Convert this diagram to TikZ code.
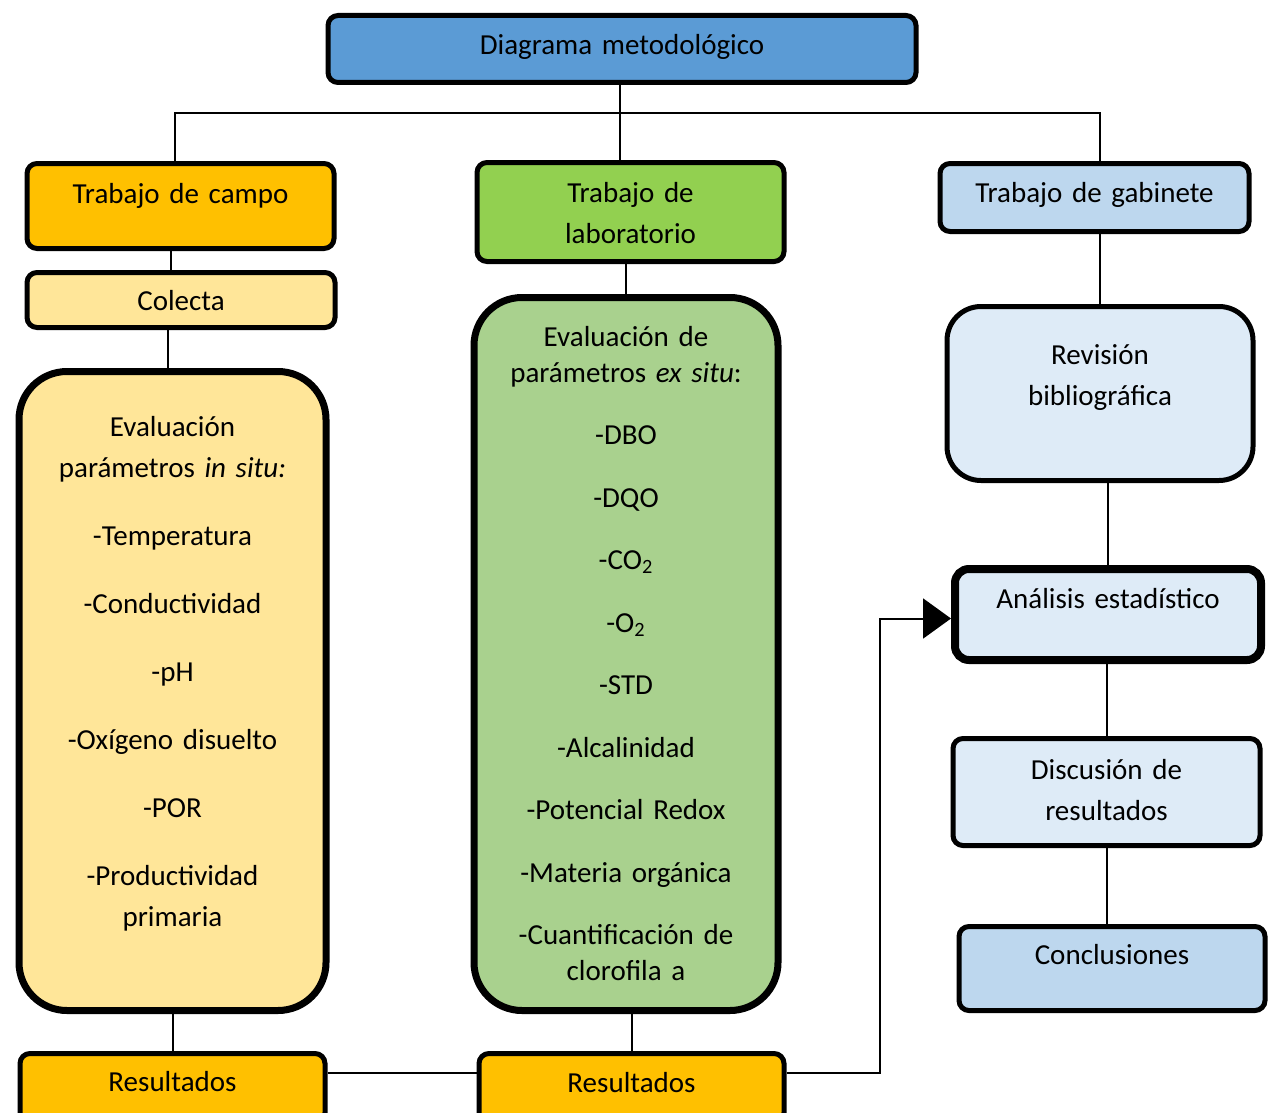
\documentclass[tikz,border=0pt]{standalone}
\usepackage{fontspec}
\setmainfont{Carlito}
\usetikzlibrary{arrows.meta}

\definecolor{azul}{HTML}{5B9BD5}
\definecolor{naranja}{HTML}{FFC000}
\definecolor{crema}{HTML}{FFE699}
\definecolor{verde}{HTML}{92D050}
\definecolor{verdeclaro}{HTML}{A9D18E}
\definecolor{celeste}{HTML}{BDD7EE}
\definecolor{celestito}{HTML}{DEEBF7}

\tikzset{
    caja/.style={draw, line width=2.5pt, rounded corners=5pt, inner sep=0pt,
        anchor=north, align=center, font=\fontsize{14.5}{20.5}\selectfont},
    cajagrande/.style={caja, line width=3.5pt, rounded corners=24pt},
    linea/.style={line width=1pt},
}

\begin{document}
\begin{tikzpicture}[x=0.5pt,y=-0.5pt]
    \useasboundingbox (0,0) rectangle (1274,1113);
    \fill[white] (0,0) rectangle (1274,1113);

    \node[caja, fill=azul, text width=294pt, text height=19.5pt, text depth=14pt] (diagrama) at (622,13) {Diagrama metodológico};

    \node[caja, fill=naranja, text width=153.5pt, text height=20pt, text depth=22.5pt] (campo) at (180.5,161) {Trabajo de campo};
    \node[caja, fill=verde, text width=153.5pt, text height=20pt, text depth=29.5pt] (lab) at (630.5,160) {Trabajo de\\laboratorio};
    \node[caja, fill=celeste, text width=154.5pt, text height=19.5pt, text depth=14.5pt] (gabinete) at (1094.5,161) {Trabajo de gabinete};

    \node[caja, fill=crema, text width=154pt, text height=19pt, text depth=8.5pt] (colecta) at (181,270) {Colecta};
    \node[cajagrande, fill=crema, text width=153.5pt, text height=32.5pt, text depth=287pt] (insitu) at (172.5,368)
        {Evaluación\\parámetros \textit{in situ:}\\[13.5pt]-Temperatura\\[13.5pt]-Conductividad\\[13.5pt]-pH\\[13.5pt]-Oxígeno disuelto\\[13.5pt]-POR\\[13.5pt]-Productividad\\primaria};
    \node[cajagrande, fill=verdeclaro, text width=152pt, text height=24.5pt, text depth=332pt, font=\fontsize{14.5}{17.75}\selectfont] (exsitu) at (626,294)
        {Evaluación de\\parámetros \textit{ex situ}:\\[13.5pt]-DBO\\[13.5pt]-DQO\\[13.5pt]-CO\textsubscript{2}\\[13.5pt]-O\textsubscript{2}\\[13.5pt]-STD\\[13.5pt]-Alcalinidad\\[13.5pt]-Potencial Redox\\[13.5pt]-Materia orgánica\\[13.5pt]-Cuantificación de\\clorofila a};

    \node[caja, fill=celestito, rounded corners=17pt, text width=153pt, text height=29pt, text depth=58pt] (revision) at (1100,304) {Revisión\\bibliográfica};
    \node[caja, line width=4pt, fill=celestito, rounded corners=7pt, text width=153pt, text height=19.5pt, text depth=26pt] (analisis) at (1108,565) {Análisis estadístico};
    \node[caja, fill=celestito, text width=153.5pt, text height=20.5pt, text depth=33pt] (discusion) at (1106.5,736) {Discusión de\\resultados};
    \node[caja, fill=celeste, text width=153pt, text height=19pt, text depth=23pt] (conclusiones) at (1112,924) {Conclusiones};

    \node[caja, fill=naranja, text width=152.5pt, text height=19pt, text depth=15.5pt] (resultadosA) at (172.5,1051) {Resultados};
    \node[caja, fill=naranja, text width=152.5pt, text height=19.5pt, text depth=15pt] (resultadosB) at (631.5,1051) {Resultados};

    \coordinate (bus) at (620,113);
    \coordinate (busA) at (175,113);
    \coordinate (busC) at (1100,113);
    \coordinate (codo) at (880,1073);

    \draw[linea] (diagrama.south -| bus) -- (bus |- lab.north);
    \draw[linea] (busA |- campo.north) -- (busA) -- (busC) -- (busC |- gabinete.north);
    \draw[linea] ([xshift=-5pt]campo.south) -- ([xshift=-5pt]campo.south |- colecta.north);
    \draw[linea] ([xshift=-6.5pt]colecta.south) -- ([xshift=-6.5pt]colecta.south |- insitu.north);
    \draw[linea] (insitu.south) -- (resultadosA.north);
    \draw[linea] (exsitu.north) -- (exsitu.north |- lab.south);
    \draw[linea] (resultadosB.north) -- (resultadosB.north |- exsitu.south);
    \draw[linea] (resultadosA.east |- codo) -- (resultadosB.west |- codo);
    \draw[linea, -{Triangle[length=14pt,width=20pt]}] (resultadosB.east |- codo) -- (codo) |- ([yshift=-2pt]analisis.west);
    \draw[linea] (revision.north) -- (revision.north |- gabinete.south);
    \draw[linea] (analisis.north) -- (analisis.north |- revision.south);
    \draw[linea] (discusion.north) -- (discusion.north |- analisis.south);
    \draw[linea] (conclusiones.north -| discusion.south) -- (discusion.south);
\end{tikzpicture}
\end{document}
